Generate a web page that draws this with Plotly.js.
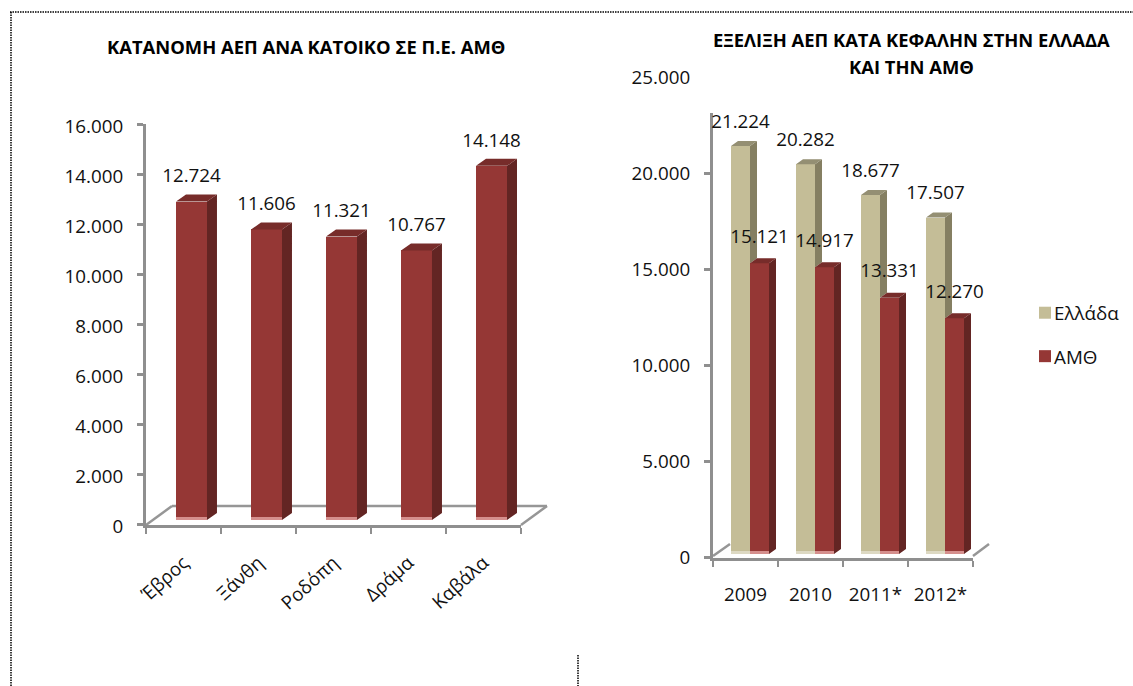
<!DOCTYPE html>
<html><head><meta charset="utf-8">
<script src="https://cdn.plot.ly/plotly-3.0.1.min.js"></script>
<style>html,body{margin:0;padding:0;background:#fff}#c{width:1133px;height:686px}</style>
</head><body><div id="c"></div>
<script>
const regions = ['Έβρος','Ξάνθη','Ροδόπη','Δράμα','Καβάλα'];
const regionGdp = [12724,11606,11321,10767,14148];
const years = ['2009','2010','2011*','2012*'];
const greece = [21224,20282,18677,17507];
const amth = [15121,14917,13331,12270];
const titleLeft = 'ΚΑΤΑΝΟΜΗ ΑΕΠ ΑΝΑ ΚΑΤΟΙΚΟ ΣΕ Π.Ε. ΑΜΘ';
const titleRight1 = 'ΕΞΕΛΙΞΗ ΑΕΠ ΚΑΤΑ ΚΕΦΑΛΗΝ ΣΤΗΝ ΕΛΛΑΔΑ';
const titleRight2 = 'ΚΑΙ ΤΗΝ ΑΜΘ';

const W=1133,H=686,FONT='"Open Sans",sans-serif',AX='#8f8f8f',TXT='#111';
const px=x=>x/W, py=y=>1-y/H;
const fmt=v=>String(v).replace(/\B(?=(\d{3})+$)/g,'.');
const red={front:'#953735',side:'#632523',top:'#772c2a',base:'#d58f8d'};
const tan={front:'#c4bd97',side:'#857f62',top:'#948f73',base:'#ddd9c3'};

const L={xa:'x',ya:'y',ux:1/75,uy:16000/400.5};
const R={xa:'x2',ya:'y2',ux:1/65,uy:25000/480.5};

function series(ch,vals,pos,width,col,dx,dy,baseOff,name,under){
  const traces=[];
  const off=baseOff*ch.uy, ddx=dx*ch.ux, ddy=dy*ch.uy;
  const xs=vals.map((_,i)=>i+pos+width/2);
  traces.push({type:'bar',x:xs,y:vals,base:off,width:width,xaxis:ch.xa,yaxis:ch.ya,name:name||'',
    marker:{color:col.front,line:{width:0}},showlegend:!!name,legendgroup:name||undefined,hoverinfo:'skip'});
  traces.push({type:'bar',x:xs,y:vals.map(()=>3*ch.uy),base:off,width:width,xaxis:ch.xa,yaxis:ch.ya,
    marker:{color:col.base,line:{width:0}},showlegend:false,hoverinfo:'skip'});
  const sx=[],sy=[],tx=[],ty=[];
  vals.forEach((v,i)=>{
    const xl=i+pos,xr=xl+width,top=v+off,b=(under?under[i]+off:off);
    sx.push(xr,xr,xr+ddx,xr+ddx,xr,null);sy.push(b,top,top+ddy,b+ddy,b,null);
    tx.push(xl,xr,xr+ddx,xl+ddx,xl,null);ty.push(top,top,top+ddy,top+ddy,top,null);
  });
  traces.push({type:'scatter',mode:'lines',x:sx,y:sy,fill:'toself',fillcolor:col.side,line:{width:0},xaxis:ch.xa,yaxis:ch.ya,showlegend:false,hoverinfo:'skip'});
  traces.push({type:'scatter',mode:'lines',x:tx,y:ty,fill:'toself',fillcolor:col.top,line:{width:0},xaxis:ch.xa,yaxis:ch.ya,showlegend:false,hoverinfo:'skip'});
  return traces;
}
function labels(ch,vals,pos,width,baseOff,rise,size){
  return {type:'scatter',mode:'text',x:vals.map((_,i)=>i+pos+width/2),y:vals.map(v=>v+(baseOff+rise)*ch.uy),
    text:vals.map(fmt),textposition:'middle center',textfont:{family:FONT,size:size,color:TXT},cliponaxis:false,
    xaxis:ch.xa,yaxis:ch.ya,showlegend:false,hoverinfo:'skip'};
}
const FS=18.8;
const traces=[
  ...series(L,regionGdp,0.4,0.413,red,10,7,4.5,null,null),
  ...series(R,greece,18/65,19/65,tan,7,5,3.5,'Ελλάδα',amth),
  ...series(R,amth,37/65,19/65,red,7,5,3.5,'ΑΜΘ',null),
  labels(L,regionGdp,0.4,0.413,4.5,24,FS),
  labels(R,greece,18/65,19/65,3.5,23,FS),
  labels(R,amth,37/65,19/65,3.5,25,FS),
];
const axBase={showgrid:false,zeroline:false,showline:true,linecolor:AX,linewidth:3,layer:'below traces',fixedrange:true};
const yax=(dom,max,dt,standoff,anchor,shift)=>({...axBase,anchor,domain:dom,range:[0,max],dtick:dt,tickformat:',d',ticks:'outside',ticklen:6,tickwidth:3,tickcolor:AX,
  ticklabelstandoff:standoff,ticklabelshift:shift,tickfont:{family:FONT,size:FS,color:TXT}});
const xax=(dom,cats,angle,standoff,anchor)=>({...axBase,anchor,domain:dom,range:[0,cats.length],tickmode:'array',
  tickvals:cats.map((_,i)=>i+0.5),ticktext:cats,ticks:'',ticklen:0,tickangle:angle,ticklabelstandoff:standoff,
  tickfont:{family:FONT,size:FS,color:TXT},
  minor:{tickmode:'array',tickvals:[...cats.map((_,i)=>i),cats.length],ticks:'outside',ticklen:6,tickwidth:2.5,tickcolor:AX,showgrid:false}});
const floor=(x0,y0,x1,y1)=>({type:'line',xref:'paper',yref:'paper',layer:'below',x0:px(x0),x1:px(x1),y0:py(y0),y1:py(y1),line:{color:'#969696',width:2.5}});
const dotted=(x0,y0,x1,y1)=>({type:'line',xref:'paper',yref:'paper',layer:'above',x0:px(x0),x1:px(x1),y0:py(y0),y1:py(y1),line:{color:'#000',width:1.5,dash:'1.5px,1px'}});
const title=(text,x,y)=>({xref:'paper',yref:'paper',x:px(x),y:py(y),text,showarrow:false,xanchor:'center',yanchor:'middle',font:{family:FONT,size:18.4,color:'#000',weight:700}});
const layout={
  width:W,height:H,margin:{l:0,r:0,t:0,b:0},paper_bgcolor:'#fff',plot_bgcolor:'rgba(0,0,0,0)',
  separators:',.',barmode:'overlay',bargap:0,hovermode:false,
  xaxis:xax([px(146),px(521)],regions,-42,17,'y'),
  yaxis:yax([py(524.5),py(124)],16000,2000,10,'x',2),
  xaxis2:xax([px(713),px(973)],years,0,18,'y2'),
  yaxis2:yax([py(557.5),py(77)],25000,5000,10,'x2',0),
  legend:{x:px(1025),xanchor:'left',y:py(294),yanchor:'top',indentation:-11,tracegroupgap:16,font:{family:FONT,size:FS,color:TXT},bgcolor:'rgba(0,0,0,0)',traceorder:'grouped'},
  annotations:[title(titleLeft,306,47),title(titleRight1,911,39.5),title(titleRight2,911,66)],
  shapes:[
    floor(146,525,172,506),floor(172,506,547,506),floor(521,525,547,506),
    floor(713,556,730,544),floor(973,556,989,544),
    {type:'rect',xref:'paper',yref:'paper',layer:'above',x0:px(703),x1:px(718),y0:py(72),y1:py(113),fillcolor:'#fff',line:{width:0}},
    dotted(10,12,1133,12),dotted(11,12,11,686),dotted(578,655,578,686)
  ]
};
Plotly.newPlot('c',traces,layout,{displayModeBar:false,staticPlot:true}).then(()=>{
  document.querySelectorAll('.legend .traces .layers').forEach(g=>{
    g.setAttribute('transform','translate(0,0)');
  });
});
</script></body></html>
